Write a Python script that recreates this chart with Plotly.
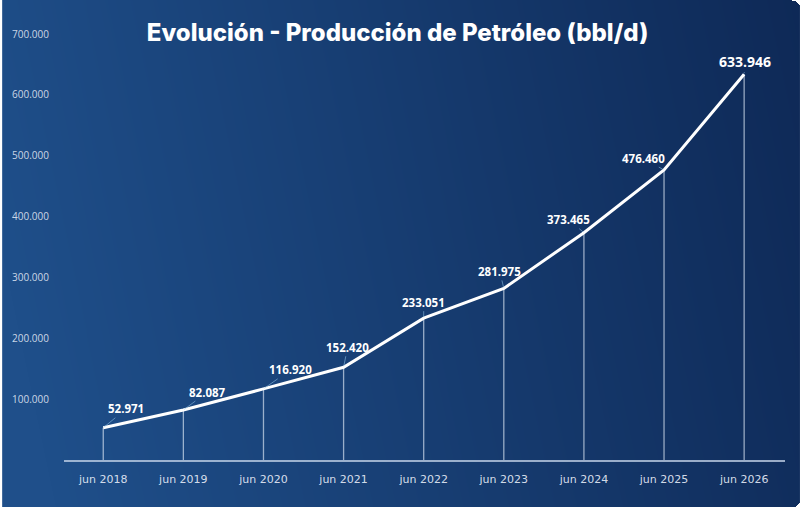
import base64
import struct
import zlib

import numpy as np
import plotly.graph_objects as go

# --- data ---
periodos = ["jun 2018", "jun 2019", "jun 2020", "jun 2021", "jun 2022",
            "jun 2023", "jun 2024", "jun 2025", "jun 2026"]
produccion = [52971, 82087, 116920, 152420, 233051, 281975, 373465, 476460, 633946]
y_ticks = [100000, 200000, 300000, 400000, 500000, 600000, 700000]

# label offsets (px) relative to each point
label_dx = [23, 24, 27, 4, 0, -4, -15, -21, 1]
label_dy = [-19, -18, -19, -20, -16, -17, -13, -12, -13]

W, H = 800, 507
M_L, M_R, M_T, M_B = 62, 15, 34, 47


def gradient_png(w, h, left=(31, 79, 138), right=(14, 40, 85), radius=9):
    xs = np.linspace(0, 1, w)[None, :]
    ys = np.linspace(0, 1, h)[:, None]
    t = np.clip(0.9 * xs - 0.12 * ys + 0.06, 0, 1)
    img = np.zeros((h, w, 4), dtype=np.uint8)
    for c in range(3):
        img[:, :, c] = (left[c] + (right[c] - left[c]) * t).astype(np.uint8)
    img[:, :, 3] = 255
    # rounded corners on the right side
    yy, xx = np.mgrid[0:h, 0:w]
    for cx, cy in [(w - radius, radius), (w - radius, h - radius)]:
        mask = ((xx > cx) & ((yy < radius) if cy == radius else (yy > h - radius))
                & ((xx - cx) ** 2 + (yy - cy) ** 2 > radius ** 2))
        img[mask, 3] = 0
    raw = b"".join(b"\x00" + img[r].tobytes() for r in range(h))

    def chunk(tag, data):
        return (struct.pack(">I", len(data)) + tag + data
                + struct.pack(">I", zlib.crc32(tag + data) & 0xffffffff))

    png = (b"\x89PNG\r\n\x1a\n"
           + chunk(b"IHDR", struct.pack(">IIBBBBB", w, h, 8, 6, 0, 0, 0))
           + chunk(b"IDAT", zlib.compress(raw, 9))
           + chunk(b"IEND", b""))
    return "data:image/png;base64," + base64.b64encode(png).decode()


def fmt(v):
    return f"{v:,}".replace(",", ".")


fig = go.Figure()

# thin drop lines from each point down to the axis
fig.add_trace(go.Scatter(
    x=periodos, y=produccion, mode="markers",
    marker=dict(size=1, color="rgba(0,0,0,0)"),
    error_y=dict(type="data", symmetric=False, array=[0] * len(produccion),
                 arrayminus=produccion, width=0, thickness=1.3,
                 color="rgba(225,235,248,0.65)"),
    hoverinfo="skip", showlegend=False,
))

fig.add_trace(go.Scatter(
    x=periodos, y=produccion, mode="lines",
    line=dict(color="white", width=3),
    showlegend=False,
))

for i, (p, v) in enumerate(zip(periodos, produccion)):
    last = i == len(periodos) - 1
    fig.add_annotation(
        x=p, y=v, text=fmt(v), showarrow=True, arrowhead=0, arrowwidth=1,
        arrowcolor="rgba(150,200,235,0.55)", ax=label_dx[i], ay=label_dy[i],
        standoff=1,
        font=dict(family="Open Sans", size=14 if last else 11.5, color="white",
                  weight="bold"),
    )

pw = W - M_L - M_R
ph = H - M_T - M_B
fig.add_layout_image(
    source=gradient_png(W, H), xref="paper", yref="paper",
    x=-M_L / pw, y=1 + M_T / ph, sizex=W / pw, sizey=H / ph,
    xanchor="left", yanchor="top", sizing="stretch", layer="below",
)

fig.update_layout(
    width=W, height=H,
    margin=dict(l=M_L, r=M_R, t=M_T, b=M_B),
    paper_bgcolor="white", plot_bgcolor="rgba(0,0,0,0)",
    separators=",.",
    title=dict(text="Evolución - Producción de Petróleo (bbl/d)",
               x=0.497, xanchor="center", y=1 - 33 / H, yanchor="middle",
               yref="container",
               font=dict(family="Inter", size=24, color="white", weight=800)),
    xaxis=dict(type="category", range=[-0.49, 8.51], showgrid=False,
               zeroline=False, showline=True, linecolor="rgba(200,215,235,0.75)",
               linewidth=2, ticks="", ticklabelstandoff=8,
               tickfont=dict(family="DejaVu Sans", size=11,
                             color="rgba(235,240,250,0.9)")),
    yaxis=dict(range=[0, 700000], tickvals=y_ticks, tickformat=",d",
               showgrid=False, zeroline=False, showline=False, ticks="",
               ticklabelstandoff=14,
               tickfont=dict(family="Open Sans", size=10,
                             color="rgba(235,240,250,0.85)")),
)

fig.write_html("out.html", config={"displayModeBar": False},
               post_script="document.body.style.margin='0';")
